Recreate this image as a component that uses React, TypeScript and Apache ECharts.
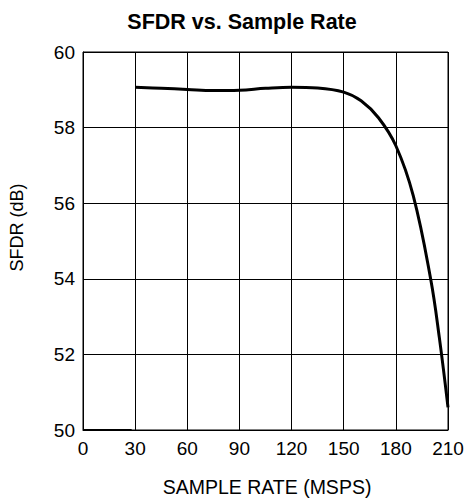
import React, { useEffect, useRef } from "react";
import * as echarts from "echarts";

const titleText = "SFDR vs. Sample Rate";
const xName = "SAMPLE RATE (MSPS)";
const yName = "SFDR (dB)";
const sampleRate = [30, 45, 60, 75, 90, 105, 120, 135, 150, 160, 170, 180, 190, 200, 205, 210];
const sfdr = [59.07, 59.04, 59.01, 58.98, 58.99, 59.04, 59.07, 59.05, 58.94, 58.71, 58.26, 57.52, 56.2, 54.0, 52.45, 50.6];
const baseX = [0, 28];
const baseY = [50, 50];

export default function App() {
  const ref = useRef<HTMLDivElement>(null);
  useEffect(() => {
    if (!ref.current) return;
    const chart = echarts.init(ref.current, null, { renderer: "svg" });
    const font = "'Liberation Sans', Arial, sans-serif";
    chart.setOption({
      animation: false,
      backgroundColor: "#fff",
      title: {
        text: titleText,
        left: 237,
        textAlign: "center",
        top: 6,
        textStyle: { fontFamily: font, fontWeight: "bold", fontSize: 21.5, color: "#000" },
      },
      grid: { left: 77, right: 19, top: 52, bottom: 71, show: true, borderColor: "#000", borderWidth: 1 },
      xAxis: {
        type: "value",
        min: 0,
        max: 210,
        interval: 30,
        name: xName,
        nameLocation: "middle",
        nameGap: 47,
        nameTextStyle: { fontFamily: font, fontSize: 19.5, color: "#000", padding: [0, 0, 0, 3] },
        axisLine: { lineStyle: { color: "#000", width: 1 } },
        axisTick: { show: false },
        axisLabel: { fontFamily: font, fontSize: 19, color: "#000", margin: 9 },
        splitLine: { show: true, lineStyle: { color: "#000", width: 1 } },
      },
      yAxis: {
        type: "value",
        min: 50,
        max: 60,
        interval: 2,
        name: yName,
        nameLocation: "middle",
        nameGap: 57,
        nameTextStyle: { fontFamily: font, fontSize: 18, color: "#000", padding: [0, 0, 0, 27] },
        axisLine: { show: true, lineStyle: { color: "#000", width: 1 } },
        axisTick: { show: false },
        axisLabel: { fontFamily: font, fontSize: 19, color: "#000", margin: 8 },
        splitLine: { show: true, lineStyle: { color: "#000", width: 1 } },
      },
      series: [
        {
          type: "line",
          data: sampleRate.map((x, i) => [x, sfdr[i]]),
          smooth: 0.4,
          showSymbol: false,
          lineStyle: { color: "#000", width: 3 },
        },
        {
          type: "line",
          data: baseX.map((x, i) => [x, baseY[i]]),
          showSymbol: false,
          lineStyle: { color: "#000", width: 2 },
        },
      ],
    });
    return () => chart.dispose();
  }, []);
  return <div ref={ref} style={{ position: "absolute", left: 0, top: 0, width: 467, height: 502 }} />;
}
